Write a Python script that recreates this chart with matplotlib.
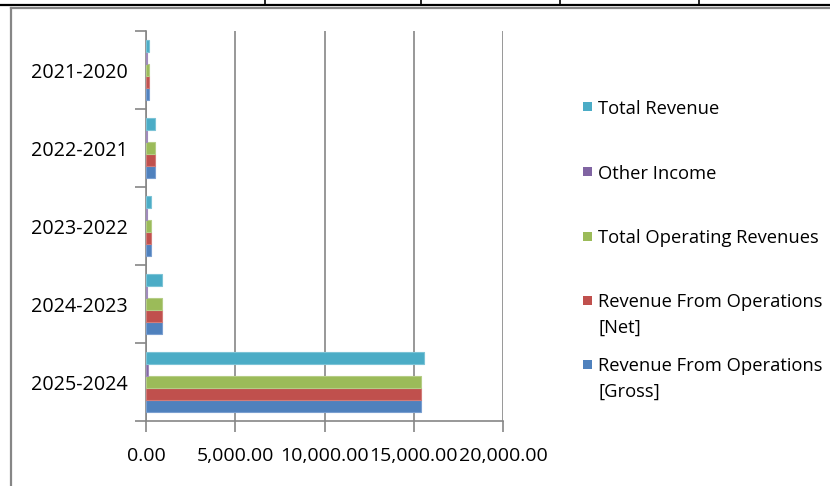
import matplotlib
matplotlib.use("Agg")
import matplotlib.pyplot as plt
from matplotlib.lines import Line2D
from matplotlib.patches import Rectangle
import numpy as np

plt.rcParams['font.family'] = ['Open Sans', 'DejaVu Sans']

categories = ["2021-2020", "2022-2021", "2023-2022", "2024-2023", "2025-2024"]
# series in Excel order (first = bottom bar of each group)
series_names = ["Revenue From Operations\n[Gross]", "Revenue From Operations\n[Net]",
                "Total Operating Revenues", "Other Income", "Total Revenue"]
gross = [165, 500, 280, 895, 15420]
net = [165, 500, 280, 895, 15420]
total_op = [165, 500, 280, 895, 15420]
other_income = [40, 40, 40, 40, 140]
total_rev = [190, 510, 290, 910, 15560]
series_values = [gross, net, total_op, other_income, total_rev]
colors = ["#4F81BD", "#C0504D", "#9BBB59", "#8064A2", "#4BACC6"]
edge_colors = ["#7A9FD0", "#D27C79", "#B5CD86", "#A08BBC", "#7CC3D6"]
xticks = [0, 5000, 10000, 15000, 20000]
xtick_labels = ["0.00", "5,000.00", "10,000.00", "15,000.00", "20,000.00"]

W, H = 830, 486
fig = plt.figure(figsize=(W / 100, H / 100), dpi=100)
ax = fig.add_axes([146 / W, (H - 421) / H, (503 - 146) / W, (421 - 31) / H])

gray = "#868686"
h = 1 / 6.5
y = np.arange(len(categories))
for j, (vals, c, ec) in enumerate(zip(series_values, colors, edge_colors)):
    ax.barh(y + (2 - j) * h, vals, height=h, color=c, edgecolor=ec, linewidth=0.8, zorder=3)

ax.set_xlim(0, 20000)
ax.set_ylim(4.5, -0.5)
ax.set_xticks(xticks)
ax.set_xticklabels(xtick_labels)
ax.set_yticks(y)
ax.set_yticklabels(categories)
ax.set_yticks(np.arange(-0.5, 5, 1), minor=True)
ax.tick_params(axis='y', which='major', length=0, pad=13, labelsize=14.2, colors="#000000")
ax.tick_params(axis='y', which='minor', length=8, width=1.2, color=gray, direction='out')
ax.tick_params(axis='x', which='major', length=8, width=1.2, color=gray, direction='out',
               pad=11, labelsize=14, labelcolor="#000000")
ax.grid(axis='x', color=gray, linewidth=1.2, zorder=0)
for s in ["top", "right"]:
    ax.spines[s].set_visible(False)
for s in ["left", "bottom"]:
    ax.spines[s].set_color(gray)
    ax.spines[s].set_linewidth(1.2)
ax.set_axisbelow(True)

# page/frame decorations
def fx(px): return px / W
def fy(py): return 1 - py / H
fig.add_artist(Line2D([0, 1], [fy(4.7), fy(4.7)], color="black", linewidth=1.6))
for tx in [265, 421, 560, 699]:
    fig.add_artist(Line2D([fx(tx), fx(tx)], [fy(0), fy(4.7)], color="black", linewidth=1.2))
fig.add_artist(Line2D([fx(11), fx(11)], [fy(8), 0], color=gray, linewidth=1.6))
fig.add_artist(Line2D([fx(11), 1], [fy(8), fy(8)], color=gray, linewidth=1.6))

# legend (reverse order, top = last series)
legend_y = [107, 172, 236, 300, 364]
for k, j in enumerate(range(len(series_names) - 1, -1, -1)):
    yy = legend_y[k]
    fig.add_artist(Rectangle((fx(583), fy(yy + 4.5)), 9 / W, 9 / H, facecolor=colors[j],
                             edgecolor='none', transform=fig.transFigure))
    lines = series_names[j].split("\n")
    for li, t in enumerate(lines):
        fig.text(fx(598), fy(yy + li * 26), t, fontsize=13.2, va='center_baseline', ha='left')

fig.savefig("out.png", dpi=100)
